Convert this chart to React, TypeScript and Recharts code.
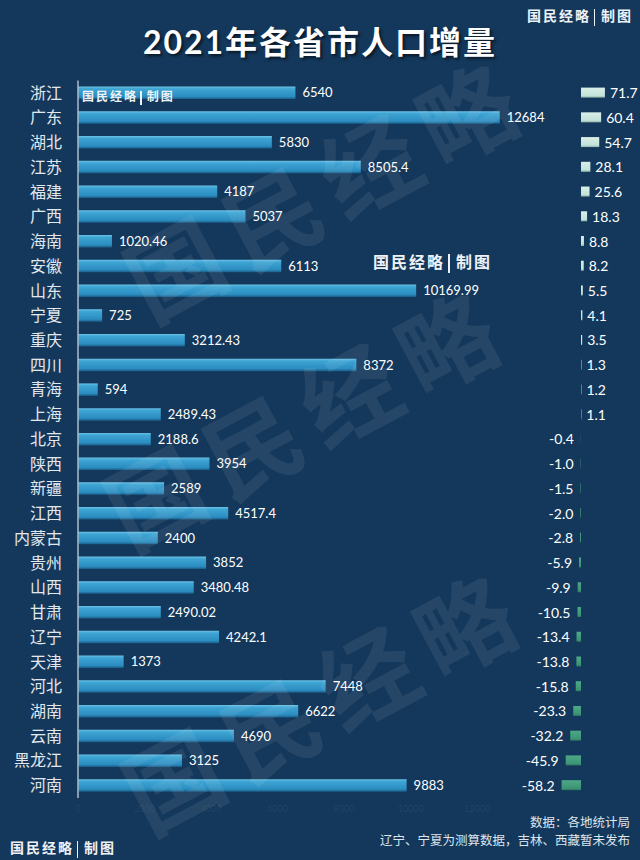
import { BarChart, Bar, XAxis, YAxis, Cell, LabelList } from "recharts";

const provinces = [
  "浙江", "广东", "湖北", "江苏", "福建", "广西", "海南", "安徽", "山东", "宁夏",
  "重庆", "四川", "青海", "上海", "北京", "陕西", "新疆", "江西", "内蒙古", "贵州",
  "山西", "甘肃", "辽宁", "天津", "河北", "湖南", "云南", "黑龙江", "河南",
];

const leftValues = [
  6540, 12684, 5830, 8505.4, 4187, 5037, 1020.46, 6113, 10169.99, 725,
  3212.43, 8372, 594, 2489.43, 2188.6, 3954, 2589, 4517.4, 2400, 3852,
  3480.48, 2490.02, 4242.1, 1373, 7448, 6622, 4690, 3125, 9883,
];

// 人口增量（万人）
const popChange = [
  71.7, 60.4, 54.7, 28.1, 25.6, 18.3, 8.8, 8.2, 5.5, 4.1,
  3.5, 1.3, 1.2, 1.1, -0.4, -1.0, -1.5, -2.0, -2.8, -5.9,
  -9.9, -10.5, -13.4, -13.8, -15.8, -23.3, -32.2, -45.9, -58.2,
];

const topTicks = [-1500, -1300, -1100, -900, -700, -500, -300, -100];
const bottomTicks = [0, 2000, 4000, 6000, 8000, 10000, 12000];

const rows = provinces.map((name, i) => ({
  name,
  value: leftValues[i],
  change: popChange[i],
}));

const BG = "#14385b";
const FAINT = "rgba(255,255,255,0.07)";

function Credit({ size }: { size: number }) {
  return (
    <span style={{ fontSize: size, fontWeight: 700, letterSpacing: 2, whiteSpace: "nowrap", color: "#eef2f6" }}>
      国民经略
      <span
        style={{
          display: "inline-block",
          width: 1.5,
          height: size * 1.2,
          background: "#eef2f6",
          margin: `0 ${size * 0.4}px 0 ${size * 0.2}px`,
          verticalAlign: "middle",
        }}
      />
      制图
    </span>
  );
}

const renderChangeLabel = (props: any) => {
  const { x, y, width, height, value } = props;
  const v = Number(value);
  const l = Math.min(Number(x), Number(x) + Number(width));
  const r = Math.max(Number(x), Number(x) + Number(width));
  const cy = Number(y) + Number(height) / 2;
  return (
    <text
      x={v >= 0 ? r + 5 : l - 7}
      y={cy}
      textAnchor={v >= 0 ? "start" : "end"}
      dominantBaseline="central"
      fill="#ffffff"
      fontSize={14}
    >
      {v.toFixed(1)}
    </text>
  );
};

const watermarks = [
  { cx: 327, cy: 188 },
  { cx: 307, cy: 417 },
  { cx: 325, cy: 700 },
];

export default function App() {
  return (
    <div
      style={{
        position: "absolute",
        left: 0,
        top: 0,
        width: 640,
        height: 860,
        background: BG,
        overflow: "hidden",
        fontFamily: "Lato, 'Noto Sans CJK SC', sans-serif",
      }}
    >
      <svg width={0} height={0} style={{ position: "absolute" }}>
        <defs>
          <linearGradient id="leftBar" x1="0" y1="0" x2="0" y2="1">
            <stop offset="0%" stopColor="#6cc2e6" />
            <stop offset="18%" stopColor="#3ea5d4" />
            <stop offset="80%" stopColor="#2b8cc0" />
            <stop offset="100%" stopColor="#1a5c86" />
          </linearGradient>
          <linearGradient id="posBar" x1="0" y1="0" x2="0" y2="1">
            <stop offset="0%" stopColor="#d8efe8" />
            <stop offset="80%" stopColor="#c3e3d9" />
            <stop offset="100%" stopColor="#8fb3aa" />
          </linearGradient>
          <linearGradient id="negBar" x1="0" y1="0" x2="0" y2="1">
            <stop offset="0%" stopColor="#4ea887" />
            <stop offset="80%" stopColor="#3c9676" />
            <stop offset="100%" stopColor="#2e7560" />
          </linearGradient>
        </defs>
      </svg>

      <div
        style={{
          position: "absolute",
          left: 0,
          top: 18,
          width: 640,
          height: 48,
          lineHeight: "48px",
          textAlign: "center",
          fontSize: 32,
          fontWeight: 700,
          letterSpacing: 2,
          color: "#ffffff",
          textShadow: "2px 2px 3px rgba(0,0,0,0.6)",
        }}
      >
        2021年各省市人口增量
      </div>

      <div style={{ position: "absolute", left: 527, top: 5 }}>
        <Credit size={14} />
      </div>

      <div style={{ position: "absolute", left: 0, top: 0 }}>
        <BarChart
          width={640}
          height={860}
          data={rows}
          layout="vertical"
          margin={{ top: 60.6, right: 96.5, bottom: 42.1, left: 0 }}
          barSize={12.5}
        >
          <XAxis
            xAxisId="top"
            orientation="top"
            type="number"
            domain={[-1500, -100]}
            ticks={topTicks}
            height={20}
            axisLine={false}
            tickLine={false}
            tick={{ fill: FAINT, fontSize: 9 }}
          />
          <XAxis
            xAxisId="bottom"
            orientation="bottom"
            type="number"
            domain={[0, 14000]}
            ticks={bottomTicks}
            height={20}
            axisLine={false}
            tickLine={false}
            tick={{ fill: FAINT, fontSize: 9 }}
          />
          <YAxis
            type="category"
            dataKey="name"
            width={78}
            interval={0}
            axisLine={{ stroke: "#a9bccb", strokeWidth: 1.5 }}
            tickLine={false}
            tickMargin={10}
            tick={{ fill: "#e3e8ee", fontSize: 16 }}
          />
          <Bar xAxisId="bottom" dataKey="value" fill="url(#leftBar)" isAnimationActive={false}>
            <LabelList dataKey="value" position="right" offset={7} fill="#ffffff" fontSize={13} />
          </Bar>
        </BarChart>
      </div>

      <div style={{ position: "absolute", left: 0, top: 0 }}>
        <BarChart
          width={640}
          height={860}
          data={rows}
          layout="vertical"
          margin={{ top: 80.6, right: 0, bottom: 62.1, left: 551 }}
          barSize={10}
        >
          <XAxis type="number" domain={[-90, 177]} hide />
          <YAxis type="category" dataKey="name" hide />
          <Bar dataKey="change" isAnimationActive={false}>
            {rows.map((r) => (
              <Cell key={r.name} fill={r.change >= 0 ? "url(#posBar)" : "url(#negBar)"} />
            ))}
            <LabelList dataKey="change" content={renderChangeLabel} />
          </Bar>
        </BarChart>
      </div>

      <div style={{ position: "absolute", left: 82, top: 85 }}>
        <Credit size={12} />
      </div>
      <div style={{ position: "absolute", left: 373, top: 249 }}>
        <Credit size={16} />
      </div>

      <div
        style={{
          position: "absolute",
          right: 10,
          top: 814,
          textAlign: "right",
          fontSize: 12.5,
          lineHeight: "18px",
          color: "#dfe6ee",
        }}
      >
        <div>数据：各地统计局</div>
        <div>辽宁、宁夏为测算数据，吉林、西藏暂未发布</div>
      </div>
      <div style={{ position: "absolute", left: 10, top: 837 }}>
        <Credit size={14} />
      </div>

      <svg width={640} height={860} style={{ position: "absolute", left: 0, top: 0, pointerEvents: "none" }}>
        {watermarks.map((w, i) => (
          <text
            key={i}
            x={w.cx}
            y={w.cy}
            textAnchor="middle"
            dominantBaseline="central"
            fontSize={96}
            fontWeight={600}
            letterSpacing={14}
            fill="rgba(255,255,255,0.075)"
            transform={`rotate(-28 ${w.cx} ${w.cy})`}
          >
            国民经略
          </text>
        ))}
      </svg>
    </div>
  );
}
